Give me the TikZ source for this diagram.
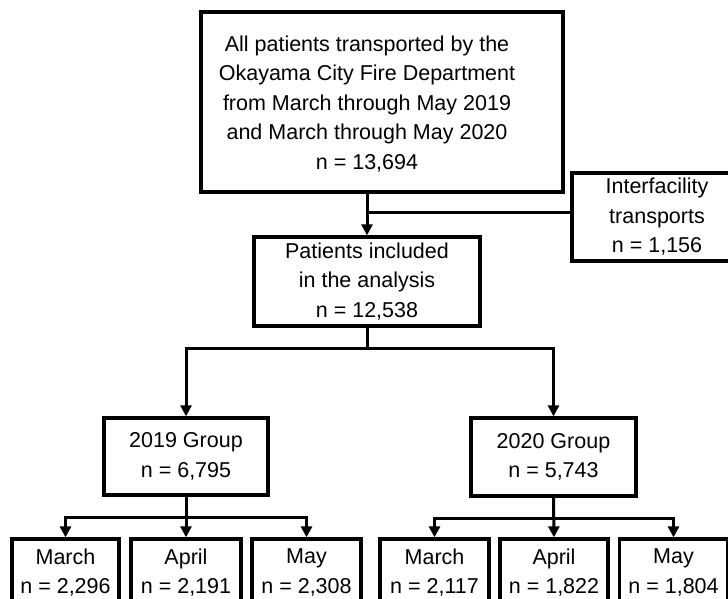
\documentclass[tikz,border=0pt]{standalone}
\usepackage{fontspec}
\setmainfont{Liberation Sans}
\usetikzlibrary{arrows.meta}

\begin{document}
\begin{tikzpicture}[
    x=1pt, y=-1pt,
    box/.style={draw, line width=3.3pt, inner sep=0pt},
    lbl/.style={align=center, font=\fontsize{21.5}{29.5}\selectfont},
    conn/.style={line width=3pt},
    arr/.style={conn, -{Triangle[width=11pt,length=11pt]}}
]

\useasboundingbox (0,0) rectangle (728,599);

% all patients
\node[box, minimum width=362, minimum height=180] (all) at (382,102) {};
\node[lbl] (alltxt) at (367,104) {All patients transported by the\\Okayama City Fire Department\\from March through May 2019\\and March through May 2020\\n = 13,694};

% excluded
\node[box, lbl, minimum width=170, minimum height=88] (inter) at (657,217) {Interfacility\\transports\\n = 1,156};

% included
\node[box, lbl, minimum width=226, minimum height=89] (incl) at (367,281.5) {Patients included\\in the analysis\\n = 12,538};

% year groups
\node[box, lbl, minimum width=164, minimum height=77] (g19) at (186,456.5) {2019 Group\\n = 6,795};
\node[box, lbl, minimum width=165, minimum height=78] (g20) at (553.5,457) {2020 Group\\n = 5,743};

% months
\node[box, lbl, minimum width=107, minimum height=67] (mar19) at (65.5,572.5) {March\\n = 2,296};
\node[box, lbl, minimum width=110, minimum height=67] (apr19) at (186,572.5) {April\\n = 2,191};
\node[box, lbl, minimum width=109, minimum height=67] (may19) at (306.5,572.5) {May\\n = 2,308};
\node[box, lbl, minimum width=109, minimum height=67] (mar20) at (434.5,572.5) {March\\n = 2,117};
\node[box, lbl, minimum width=108, minimum height=67] (apr20) at (554,572.5) {April\\n = 1,822};
\node[box, lbl, minimum width=108, minimum height=67] (may20) at (673.5,572.5) {May\\n = 1,804};

% stem and exclusion
\coordinate (split) at (incl.north |- 0,212);
\draw[arr] (all.south -| incl.north) -- (incl.north);
\draw[conn] (split) -- (split -| inter.west);

% years
\draw[arr] (incl.south) -- ++(0,21) -| (g19.north);
\draw[arr] (incl.south) -- ++(0,21) -| (g20.north);

% months 2019
\draw[arr] (g19.south) -- ++(0,21) -| (mar19.north);
\draw[arr] (g19.south) -- (apr19.north);
\draw[arr] (g19.south) -- ++(0,21) -| (may19.north);

% months 2020
\draw[arr] (g20.south) -- ++(0,21) -| (mar20.north);
\draw[arr] (g20.south) -- (apr20.north);
\draw[arr] (g20.south) -- ++(0,21) -| (may20.north);

\end{tikzpicture}
\end{document}
